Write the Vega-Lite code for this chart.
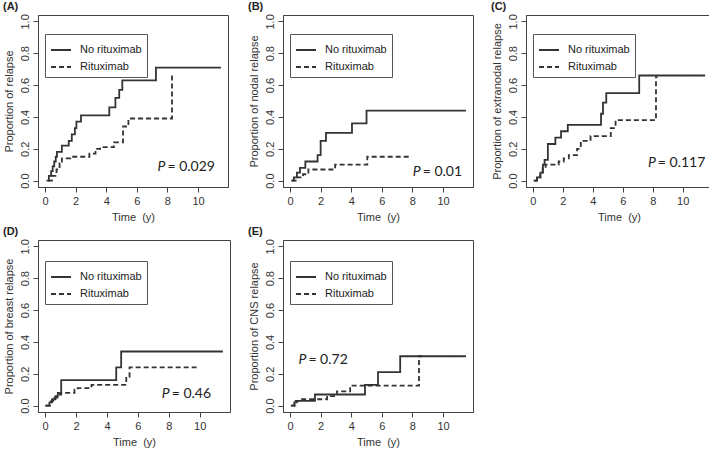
{
  "$schema": "https://vega.github.io/schema/vega-lite/v6.json",
  "padding": {"left": 2, "right": 2, "top": 0, "bottom": 0},
  "background": "white",
  "datasets": {
    "curves": [
      {"panel": "A", "group": "No rituximab", "t": 0.1, "p": 0},
      {"panel": "A", "group": "No rituximab", "t": 0.25, "p": 0.03},
      {"panel": "A", "group": "No rituximab", "t": 0.4, "p": 0.06},
      {"panel": "A", "group": "No rituximab", "t": 0.5, "p": 0.09},
      {"panel": "A", "group": "No rituximab", "t": 0.6, "p": 0.12},
      {"panel": "A", "group": "No rituximab", "t": 0.7, "p": 0.15},
      {"panel": "A", "group": "No rituximab", "t": 0.78, "p": 0.18},
      {"panel": "A", "group": "No rituximab", "t": 1.1, "p": 0.22},
      {"panel": "A", "group": "No rituximab", "t": 1.55, "p": 0.25},
      {"panel": "A", "group": "No rituximab", "t": 1.75, "p": 0.29},
      {"panel": "A", "group": "No rituximab", "t": 1.95, "p": 0.33},
      {"panel": "A", "group": "No rituximab", "t": 2.05, "p": 0.37},
      {"panel": "A", "group": "No rituximab", "t": 2.35, "p": 0.41},
      {"panel": "A", "group": "No rituximab", "t": 4.2, "p": 0.46},
      {"panel": "A", "group": "No rituximab", "t": 4.6, "p": 0.52},
      {"panel": "A", "group": "No rituximab", "t": 4.85, "p": 0.57},
      {"panel": "A", "group": "No rituximab", "t": 5.05, "p": 0.63},
      {"panel": "A", "group": "No rituximab", "t": 7.25, "p": 0.71},
      {"panel": "A", "group": "No rituximab", "t": 11.5, "p": 0.71},
      {"panel": "A", "group": "Rituximab", "t": 0.2, "p": 0},
      {"panel": "A", "group": "Rituximab", "t": 0.45, "p": 0.03},
      {"panel": "A", "group": "Rituximab", "t": 0.75, "p": 0.07},
      {"panel": "A", "group": "Rituximab", "t": 0.95, "p": 0.11},
      {"panel": "A", "group": "Rituximab", "t": 1.1, "p": 0.14},
      {"panel": "A", "group": "Rituximab", "t": 1.65, "p": 0.15},
      {"panel": "A", "group": "Rituximab", "t": 2.9, "p": 0.17},
      {"panel": "A", "group": "Rituximab", "t": 3.3, "p": 0.2},
      {"panel": "A", "group": "Rituximab", "t": 3.6, "p": 0.21},
      {"panel": "A", "group": "Rituximab", "t": 4.5, "p": 0.24},
      {"panel": "A", "group": "Rituximab", "t": 5.1, "p": 0.34},
      {"panel": "A", "group": "Rituximab", "t": 5.45, "p": 0.39},
      {"panel": "A", "group": "Rituximab", "t": 8.3, "p": 0.66},
      {"panel": "A", "group": "Rituximab", "t": 8.5, "p": 0.66},
      {"panel": "B", "group": "No rituximab", "t": 0.1, "p": 0},
      {"panel": "B", "group": "No rituximab", "t": 0.25, "p": 0.02},
      {"panel": "B", "group": "No rituximab", "t": 0.45, "p": 0.05},
      {"panel": "B", "group": "No rituximab", "t": 0.65, "p": 0.08},
      {"panel": "B", "group": "No rituximab", "t": 1.0, "p": 0.12},
      {"panel": "B", "group": "No rituximab", "t": 1.8, "p": 0.16},
      {"panel": "B", "group": "No rituximab", "t": 2.0, "p": 0.25},
      {"panel": "B", "group": "No rituximab", "t": 2.35, "p": 0.3},
      {"panel": "B", "group": "No rituximab", "t": 4.05, "p": 0.36},
      {"panel": "B", "group": "No rituximab", "t": 5.0, "p": 0.44},
      {"panel": "B", "group": "No rituximab", "t": 11.5, "p": 0.44},
      {"panel": "B", "group": "Rituximab", "t": 0.1, "p": 0},
      {"panel": "B", "group": "Rituximab", "t": 0.45, "p": 0.02},
      {"panel": "B", "group": "Rituximab", "t": 0.85, "p": 0.04},
      {"panel": "B", "group": "Rituximab", "t": 1.2, "p": 0.07},
      {"panel": "B", "group": "Rituximab", "t": 2.95, "p": 0.1},
      {"panel": "B", "group": "Rituximab", "t": 5.05, "p": 0.15},
      {"panel": "B", "group": "Rituximab", "t": 7.8, "p": 0.15},
      {"panel": "C", "group": "No rituximab", "t": 0.05, "p": 0},
      {"panel": "C", "group": "No rituximab", "t": 0.27, "p": 0.02},
      {"panel": "C", "group": "No rituximab", "t": 0.5, "p": 0.05},
      {"panel": "C", "group": "No rituximab", "t": 0.67, "p": 0.1},
      {"panel": "C", "group": "No rituximab", "t": 0.78, "p": 0.13},
      {"panel": "C", "group": "No rituximab", "t": 1.0, "p": 0.23},
      {"panel": "C", "group": "No rituximab", "t": 1.5, "p": 0.27},
      {"panel": "C", "group": "No rituximab", "t": 1.88, "p": 0.31},
      {"panel": "C", "group": "No rituximab", "t": 2.33, "p": 0.35},
      {"panel": "C", "group": "No rituximab", "t": 4.55, "p": 0.42},
      {"panel": "C", "group": "No rituximab", "t": 4.68, "p": 0.49},
      {"panel": "C", "group": "No rituximab", "t": 4.9, "p": 0.55},
      {"panel": "C", "group": "No rituximab", "t": 7.1, "p": 0.66},
      {"panel": "C", "group": "No rituximab", "t": 11.5, "p": 0.66},
      {"panel": "C", "group": "Rituximab", "t": 0.1, "p": 0},
      {"panel": "C", "group": "Rituximab", "t": 0.27, "p": 0.02},
      {"panel": "C", "group": "Rituximab", "t": 0.5, "p": 0.05},
      {"panel": "C", "group": "Rituximab", "t": 0.65, "p": 0.08},
      {"panel": "C", "group": "Rituximab", "t": 0.85, "p": 0.1},
      {"panel": "C", "group": "Rituximab", "t": 1.72, "p": 0.12},
      {"panel": "C", "group": "Rituximab", "t": 2.06, "p": 0.14},
      {"panel": "C", "group": "Rituximab", "t": 2.4, "p": 0.16},
      {"panel": "C", "group": "Rituximab", "t": 2.95, "p": 0.2},
      {"panel": "C", "group": "Rituximab", "t": 3.2, "p": 0.25},
      {"panel": "C", "group": "Rituximab", "t": 3.85, "p": 0.28},
      {"panel": "C", "group": "Rituximab", "t": 5.2, "p": 0.33},
      {"panel": "C", "group": "Rituximab", "t": 5.52, "p": 0.38},
      {"panel": "C", "group": "Rituximab", "t": 8.22, "p": 0.65},
      {"panel": "C", "group": "Rituximab", "t": 8.32, "p": 0.65},
      {"panel": "D", "group": "No rituximab", "t": 0.0, "p": 0},
      {"panel": "D", "group": "No rituximab", "t": 0.28, "p": 0.02},
      {"panel": "D", "group": "No rituximab", "t": 0.45, "p": 0.04},
      {"panel": "D", "group": "No rituximab", "t": 0.67, "p": 0.06},
      {"panel": "D", "group": "No rituximab", "t": 0.82, "p": 0.08},
      {"panel": "D", "group": "No rituximab", "t": 1.04, "p": 0.16},
      {"panel": "D", "group": "No rituximab", "t": 4.6, "p": 0.24},
      {"panel": "D", "group": "No rituximab", "t": 4.92, "p": 0.34},
      {"panel": "D", "group": "No rituximab", "t": 11.5, "p": 0.34},
      {"panel": "D", "group": "Rituximab", "t": 0.05, "p": 0},
      {"panel": "D", "group": "Rituximab", "t": 0.4, "p": 0.03},
      {"panel": "D", "group": "Rituximab", "t": 0.6, "p": 0.05},
      {"panel": "D", "group": "Rituximab", "t": 0.8, "p": 0.07},
      {"panel": "D", "group": "Rituximab", "t": 1.04, "p": 0.08},
      {"panel": "D", "group": "Rituximab", "t": 1.9, "p": 0.1},
      {"panel": "D", "group": "Rituximab", "t": 2.1, "p": 0.11},
      {"panel": "D", "group": "Rituximab", "t": 3.0, "p": 0.13},
      {"panel": "D", "group": "Rituximab", "t": 5.25, "p": 0.18},
      {"panel": "D", "group": "Rituximab", "t": 5.46, "p": 0.24},
      {"panel": "D", "group": "Rituximab", "t": 9.8, "p": 0.24},
      {"panel": "E", "group": "No rituximab", "t": 0.05, "p": 0},
      {"panel": "E", "group": "No rituximab", "t": 0.28, "p": 0.02},
      {"panel": "E", "group": "No rituximab", "t": 0.45, "p": 0.03},
      {"panel": "E", "group": "No rituximab", "t": 1.63, "p": 0.07},
      {"panel": "E", "group": "No rituximab", "t": 4.9, "p": 0.13},
      {"panel": "E", "group": "No rituximab", "t": 5.75, "p": 0.21},
      {"panel": "E", "group": "No rituximab", "t": 7.2, "p": 0.31},
      {"panel": "E", "group": "No rituximab", "t": 11.5, "p": 0.31},
      {"panel": "E", "group": "Rituximab", "t": 0.1, "p": 0},
      {"panel": "E", "group": "Rituximab", "t": 0.3, "p": 0.03},
      {"panel": "E", "group": "Rituximab", "t": 0.71, "p": 0.04},
      {"panel": "E", "group": "Rituximab", "t": 2.42, "p": 0.06},
      {"panel": "E", "group": "Rituximab", "t": 3.07, "p": 0.09},
      {"panel": "E", "group": "Rituximab", "t": 3.93, "p": 0.125},
      {"panel": "E", "group": "Rituximab", "t": 8.43, "p": 0.31},
      {"panel": "E", "group": "Rituximab", "t": 8.63, "p": 0.31}
    ],
    "annot": [
      {"panel": "A", "t": 7.87, "p": 0.086, "value": "= 0.029"},
      {"panel": "B", "t": 8.54, "p": 0.054, "value": "= 0.01"},
      {"panel": "C", "t": 8.21, "p": 0.109, "value": "= 0.117"},
      {"panel": "D", "t": 8.06, "p": 0.075, "value": "= 0.46"},
      {"panel": "E", "t": 1.07, "p": 0.284, "value": "= 0.72"}
    ]
  },
  "config": {
    "font": "Liberation Sans",
    "view": {"stroke": "#444", "strokeWidth": 1},
    "axis": {"grid": false, "labelFontSize": 11, "titleFontSize": 11, "titleFontWeight": "normal", "labelColor": "#333", "titleColor": "#333", "tickColor": "#444", "domainColor": "#444", "tickSize": 5, "labelPadding": 3, "titlePadding": 5, "labelOverlap": false, "labelBound": false, "labelFlush": false, "tickCount": 12, "labelFont": "Liberation Sans", "titleFont": "Liberation Sans"},
    "title": {"anchor": "start", "frame": "bounds", "fontSize": 11, "fontWeight": "bold", "offset": 2, "font": "Liberation Sans", "color": "#222"},
    "legend": {"labelFontSize": 11, "labelColor": "#222", "labelFont": "Liberation Sans", "symbolType": "stroke", "symbolSize": 400, "symbolStrokeWidth": 2, "symbolStrokeColor": "#333", "strokeColor": "#555", "fillColor": "white", "padding": 5, "rowPadding": 1, "labelOffset": 8}
  },
  "resolve": {"scale": {"strokeDash": "independent"}, "legend": {"strokeDash": "independent"}},
  "columns": 3,
  "spacing": {"row": 2, "column": 16},
  "concat": [
    {
      "title": "(A)", "width": 190, "height": 172,
      "layer": [
        {"data": {"name": "curves"}, "transform": [{"filter": "datum.panel == 'A'"}],
         "mark": {"type": "line", "interpolate": "step-after", "color": "#333", "strokeWidth": 1.8},
         "encoding": {
           "x": {"field": "t", "type": "quantitative", "scale": {"domain": [-0.46, 11.96], "nice": false, "zero": false}, "axis": {"values": [0, 2, 4, 6, 8, 10], "tickCount": 12, "labelOverlap": false, "title": "Time\u00a0\u00a0(y)"}},
           "y": {"field": "p", "type": "quantitative", "scale": {"domain": [-0.04, 1.04], "nice": false, "zero": false}, "axis": {"values": [0, 0.2, 0.4, 0.6, 0.8, 1.0], "tickCount": 12, "labelOverlap": false, "format": ".1f", "labelAngle": -90, "title": "Proportion of relapse"}},
           "strokeDash": {"field": "group", "type": "nominal", "scale": {"domain": ["No rituximab", "Rituximab"], "range": [[1, 0], [5, 3]]}, "legend": {"title": null, "orient": "none", "legendX": 7, "legendY": 19}}
         }},
        {"data": {"name": "annot"}, "transform": [{"filter": "datum.panel == 'A'"}],
         "mark": {"type": "text", "text": "P", "fontStyle": "italic", "align": "right", "baseline": "middle", "fontSize": 14, "font": "Lato", "color": "#222"},
         "encoding": {"x": {"field": "t", "type": "quantitative"}, "y": {"field": "p", "type": "quantitative"}}},
        {"data": {"name": "annot"}, "transform": [{"filter": "datum.panel == 'A'"}],
         "mark": {"type": "text", "align": "left", "baseline": "middle", "dx": 2, "fontSize": 14, "font": "Lato", "color": "#222"},
         "encoding": {"x": {"field": "t", "type": "quantitative"}, "y": {"field": "p", "type": "quantitative"}, "text": {"field": "value"}}}
      ]
    },
    {
      "title": "(B)", "width": 190, "height": 172,
      "layer": [
        {"data": {"name": "curves"}, "transform": [{"filter": "datum.panel == 'B'"}],
         "mark": {"type": "line", "interpolate": "step-after", "color": "#333", "strokeWidth": 1.8},
         "encoding": {
           "x": {"field": "t", "type": "quantitative", "scale": {"domain": [-0.46, 11.96], "nice": false, "zero": false}, "axis": {"values": [0, 2, 4, 6, 8, 10], "tickCount": 12, "labelOverlap": false, "title": "Time\u00a0\u00a0(y)"}},
           "y": {"field": "p", "type": "quantitative", "scale": {"domain": [-0.04, 1.04], "nice": false, "zero": false}, "axis": {"values": [0, 0.2, 0.4, 0.6, 0.8, 1.0], "tickCount": 12, "labelOverlap": false, "format": ".1f", "labelAngle": -90, "title": "Proportion of nodal relapse"}},
           "strokeDash": {"field": "group", "type": "nominal", "scale": {"domain": ["No rituximab", "Rituximab"], "range": [[1, 0], [5, 3]]}, "legend": {"title": null, "orient": "none", "legendX": 7, "legendY": 19}}
         }},
        {"data": {"name": "annot"}, "transform": [{"filter": "datum.panel == 'B'"}],
         "mark": {"type": "text", "text": "P", "fontStyle": "italic", "align": "right", "baseline": "middle", "fontSize": 14, "font": "Lato", "color": "#222"},
         "encoding": {"x": {"field": "t", "type": "quantitative"}, "y": {"field": "p", "type": "quantitative"}}},
        {"data": {"name": "annot"}, "transform": [{"filter": "datum.panel == 'B'"}],
         "mark": {"type": "text", "align": "left", "baseline": "middle", "dx": 2, "fontSize": 14, "font": "Lato", "color": "#222"},
         "encoding": {"x": {"field": "t", "type": "quantitative"}, "y": {"field": "p", "type": "quantitative"}, "text": {"field": "value"}}}
      ]
    },
    {
      "title": "(C)", "width": 186, "height": 172,
      "layer": [
        {"data": {"name": "curves"}, "transform": [{"filter": "datum.panel == 'C'"}],
         "mark": {"type": "line", "interpolate": "step-after", "color": "#333", "strokeWidth": 1.8},
         "encoding": {
           "x": {"field": "t", "type": "quantitative", "scale": {"domain": [-0.46, 11.96], "nice": false, "zero": false}, "axis": {"values": [0, 2, 4, 6, 8, 10], "tickCount": 12, "labelOverlap": false, "title": "Time\u00a0\u00a0(y)"}},
           "y": {"field": "p", "type": "quantitative", "scale": {"domain": [-0.04, 1.04], "nice": false, "zero": false}, "axis": {"values": [0, 0.2, 0.4, 0.6, 0.8, 1.0], "tickCount": 12, "labelOverlap": false, "format": ".1f", "labelAngle": -90, "title": "Proportion of extranodal relapse"}},
           "strokeDash": {"field": "group", "type": "nominal", "scale": {"domain": ["No rituximab", "Rituximab"], "range": [[1, 0], [5, 3]]}, "legend": {"title": null, "orient": "none", "legendX": 7, "legendY": 19}}
         }},
        {"data": {"name": "annot"}, "transform": [{"filter": "datum.panel == 'C'"}],
         "mark": {"type": "text", "text": "P", "fontStyle": "italic", "align": "right", "baseline": "middle", "fontSize": 14, "font": "Lato", "color": "#222"},
         "encoding": {"x": {"field": "t", "type": "quantitative"}, "y": {"field": "p", "type": "quantitative"}}},
        {"data": {"name": "annot"}, "transform": [{"filter": "datum.panel == 'C'"}],
         "mark": {"type": "text", "align": "left", "baseline": "middle", "dx": 2, "fontSize": 14, "font": "Lato", "color": "#222"},
         "encoding": {"x": {"field": "t", "type": "quantitative"}, "y": {"field": "p", "type": "quantitative"}, "text": {"field": "value"}}}
      ]
    },
    {
      "title": "(D)", "width": 192, "height": 172,
      "layer": [
        {"data": {"name": "curves"}, "transform": [{"filter": "datum.panel == 'D'"}],
         "mark": {"type": "line", "interpolate": "step-after", "color": "#333", "strokeWidth": 1.8},
         "encoding": {
           "x": {"field": "t", "type": "quantitative", "scale": {"domain": [-0.46, 11.96], "nice": false, "zero": false}, "axis": {"values": [0, 2, 4, 6, 8, 10], "tickCount": 12, "labelOverlap": false, "title": "Time\u00a0\u00a0(y)"}},
           "y": {"field": "p", "type": "quantitative", "scale": {"domain": [-0.04, 1.04], "nice": false, "zero": false}, "axis": {"values": [0, 0.2, 0.4, 0.6, 0.8, 1.0], "tickCount": 12, "labelOverlap": false, "format": ".1f", "labelAngle": -90, "title": "Proportion of breast relapse"}},
           "strokeDash": {"field": "group", "type": "nominal", "scale": {"domain": ["No rituximab", "Rituximab"], "range": [[1, 0], [5, 3]]}, "legend": {"title": null, "orient": "none", "legendX": 7, "legendY": 21}}
         }},
        {"data": {"name": "annot"}, "transform": [{"filter": "datum.panel == 'D'"}],
         "mark": {"type": "text", "text": "P", "fontStyle": "italic", "align": "right", "baseline": "middle", "fontSize": 14, "font": "Lato", "color": "#222"},
         "encoding": {"x": {"field": "t", "type": "quantitative"}, "y": {"field": "p", "type": "quantitative"}}},
        {"data": {"name": "annot"}, "transform": [{"filter": "datum.panel == 'D'"}],
         "mark": {"type": "text", "align": "left", "baseline": "middle", "dx": 2, "fontSize": 14, "font": "Lato", "color": "#222"},
         "encoding": {"x": {"field": "t", "type": "quantitative"}, "y": {"field": "p", "type": "quantitative"}, "text": {"field": "value"}}}
      ]
    },
    {
      "title": "(E)", "width": 190, "height": 172,
      "layer": [
        {"data": {"name": "curves"}, "transform": [{"filter": "datum.panel == 'E'"}],
         "mark": {"type": "line", "interpolate": "step-after", "color": "#333", "strokeWidth": 1.8},
         "encoding": {
           "x": {"field": "t", "type": "quantitative", "scale": {"domain": [-0.46, 11.96], "nice": false, "zero": false}, "axis": {"values": [0, 2, 4, 6, 8, 10], "tickCount": 12, "labelOverlap": false, "title": "Time\u00a0\u00a0(y)"}},
           "y": {"field": "p", "type": "quantitative", "scale": {"domain": [-0.04, 1.04], "nice": false, "zero": false}, "axis": {"values": [0, 0.2, 0.4, 0.6, 0.8, 1.0], "tickCount": 12, "labelOverlap": false, "format": ".1f", "labelAngle": -90, "title": "Proportion of CNS relapse"}},
           "strokeDash": {"field": "group", "type": "nominal", "scale": {"domain": ["No rituximab", "Rituximab"], "range": [[1, 0], [5, 3]]}, "legend": {"title": null, "orient": "none", "legendX": 7, "legendY": 21}}
         }},
        {"data": {"name": "annot"}, "transform": [{"filter": "datum.panel == 'E'"}],
         "mark": {"type": "text", "text": "P", "fontStyle": "italic", "align": "right", "baseline": "middle", "fontSize": 14, "font": "Lato", "color": "#222"},
         "encoding": {"x": {"field": "t", "type": "quantitative"}, "y": {"field": "p", "type": "quantitative"}}},
        {"data": {"name": "annot"}, "transform": [{"filter": "datum.panel == 'E'"}],
         "mark": {"type": "text", "align": "left", "baseline": "middle", "dx": 2, "fontSize": 14, "font": "Lato", "color": "#222"},
         "encoding": {"x": {"field": "t", "type": "quantitative"}, "y": {"field": "p", "type": "quantitative"}, "text": {"field": "value"}}}
      ]
    }
  ]
}
